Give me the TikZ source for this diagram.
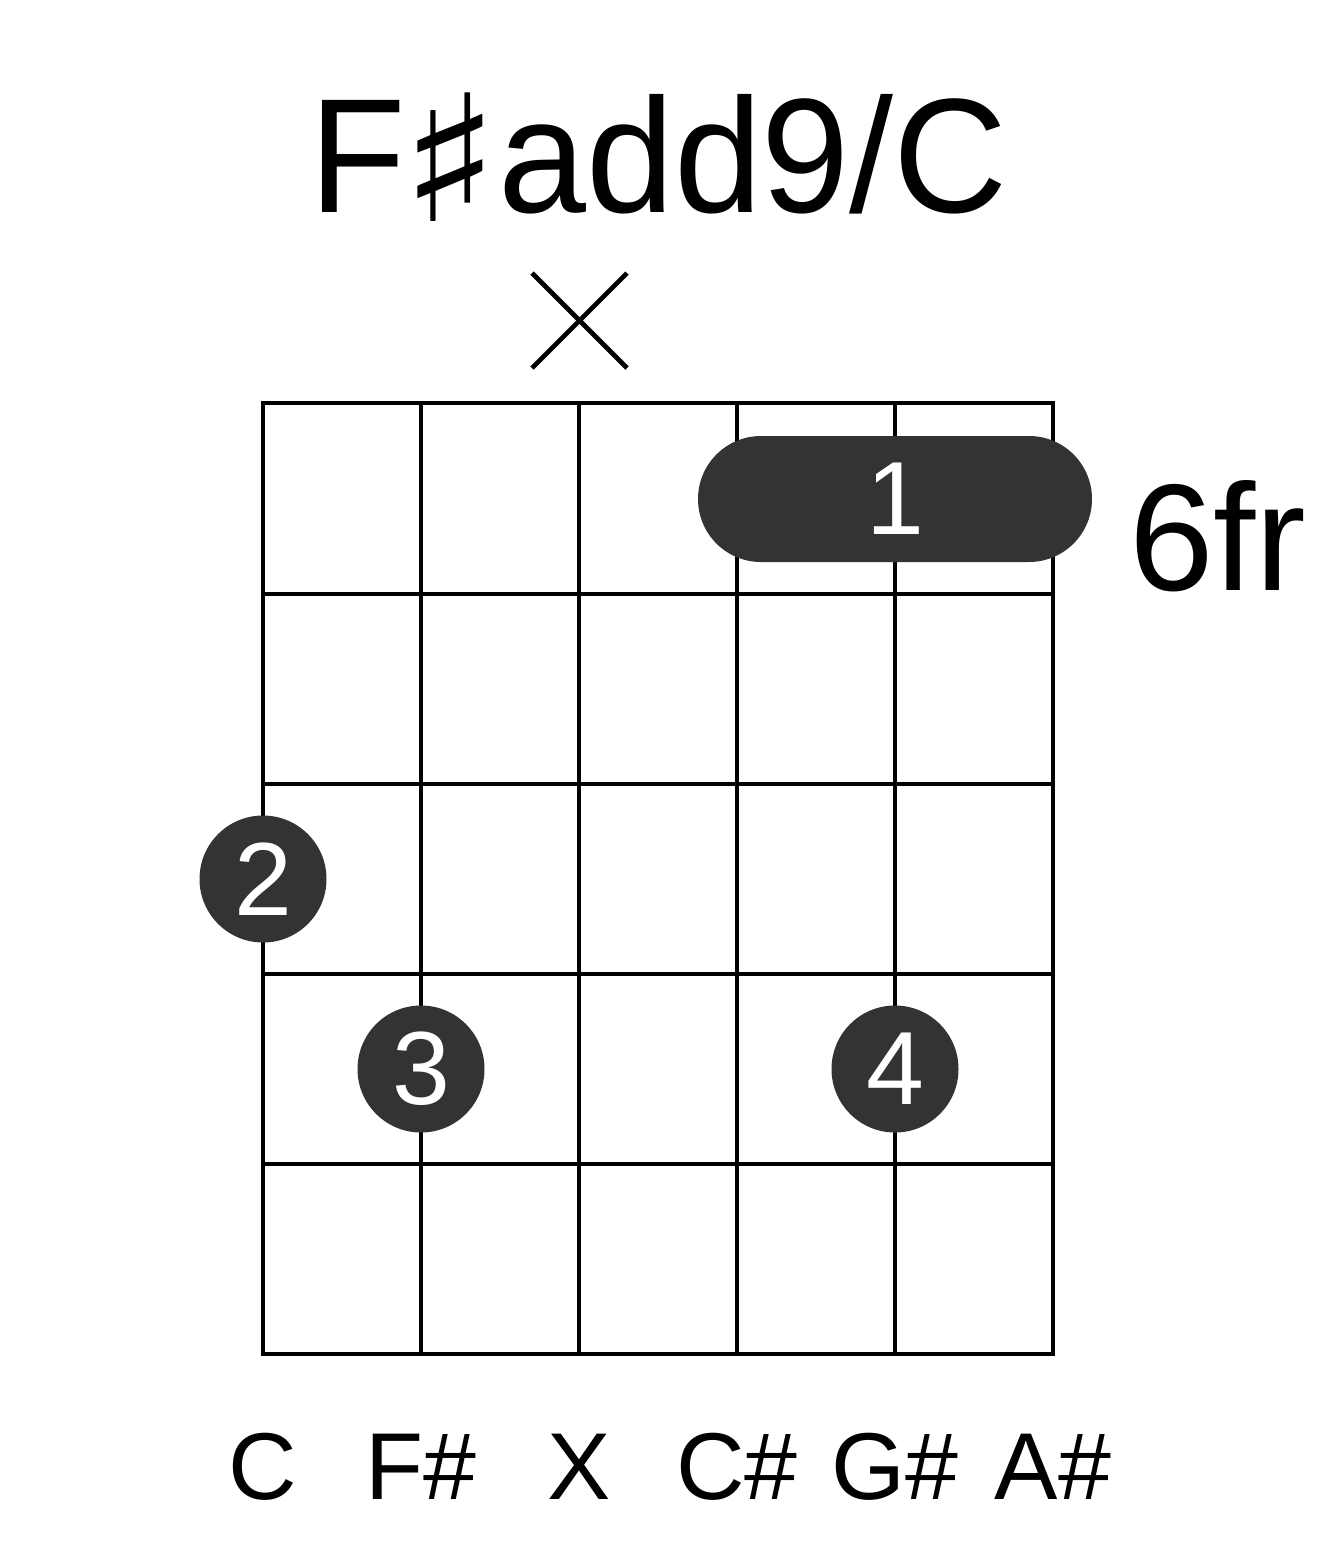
\documentclass[tikz,border=0pt]{standalone}
\usepackage{fontspec}
\usepackage{graphicx}
\setmainfont{Liberation Sans}
\newfontfamily\symfont{DejaVu Sans}
\definecolor{dotgray}{HTML}{333333}
\begin{document}
\begin{tikzpicture}[x=1pt,y=-1pt,
  gridline/.style={line width=4.6pt, line cap=rect},
  fingerdot/.style={circle, fill=dotgray, minimum size=127pt, inner sep=0pt, text=white, font=\fontsize{104}{104}\selectfont},
  barrebox/.style={rectangle, rounded corners=63pt, fill=dotgray, minimum width=394pt, minimum height=126pt, inner sep=0pt, text=white, font=\fontsize{104}{104}\selectfont},
  notelabel/.style={anchor=base, inner sep=0pt, font=\fontsize{95}{95}\selectfont},
  mutemark/.style={line width=4.6pt}]
\useasboundingbox (0,0) rectangle (1317,1551);
% title
\node (title) [anchor=base, inner sep=0pt, xscale=0.97, font=\fontsize{163}{163}\selectfont] at (659,212) {F\hspace{-6pt}{\symfont\raisebox{-9pt}{\scalebox{1.3}[1.08]{♯}}}\hspace{-2pt}add9/C};
% mute mark
\coordinate (m1) at (532,273);
\coordinate (m2) at (627,368);
\coordinate (m3) at (627,273);
\coordinate (m4) at (532,368);
\draw[mutemark] (m1) -- (m2);
\draw[mutemark] (m3) -- (m4);
% grid
\foreach \yy in {403,594,784,974,1164,1354}
  \draw[gridline] (263,\yy) -- (1053,\yy);
\foreach \xx in {263,421,579,737,895,1053}
  \draw[gridline] (\xx,403) -- (\xx,1354);
% barre
\node (barre) [barrebox] at (895,499) {1};
% dots
\node (d2) [fingerdot] at (263,879) {2};
\node (d3) [fingerdot] at (421,1069) {3};
\node (d4) [fingerdot] at (895,1069) {4};
% fret label
\node (fr) [anchor=base west, inner sep=0pt, font=\fontsize{152}{152}\selectfont] at (1129,590) {6fr};
% note labels
\node (n1) [notelabel] at (263,1499) {C};
\node (n2) [notelabel] at (421,1499) {F\#};
\node (n3) [notelabel] at (579,1499) {X};
\node (n4) [notelabel] at (737,1499) {C\#};
\node (n5) [notelabel] at (895,1499) {G\#};
\node (n6) [notelabel] at (1053,1499) {A\#};
\end{tikzpicture}
\end{document}
